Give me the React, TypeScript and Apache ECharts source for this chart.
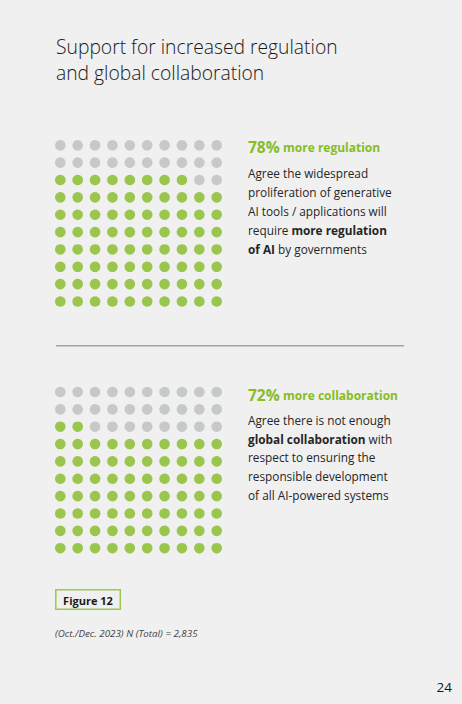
import React, { useEffect, useRef } from "react";
import * as echarts from "echarts";

const titleLines = ["Support for increased regulation", "and global collaboration"];
const percentages = [78, 72];
const headlines = ["more regulation", "more collaboration"];
const bodyLines1 = [
  "Agree the widespread",
  "proliferation of generative",
  "AI tools / applications will",
  "require {b|more regulation}",
  "{b|of AI} by governments",
];
const bodyLines2 = [
  "Agree there is not enough",
  "{b|global collaboration} with",
  "respect to ensuring the",
  "responsible development",
  "of all AI-powered systems",
];
const figureLabel = "Figure 12";
const footnote = "(Oct./Dec. 2023) N (Total) = 2,835";
const pageNumber = "24";

const GRID_COLS = 10;
const GRID_ROWS = 10;
const GREEN = "#86bc25";
const GRAY = "#bcbfc0";
const FONT = "'Open Sans', 'Noto Sans', sans-serif";

function waffle(pct: number) {
  const pts: any[] = [];
  const grayCount = GRID_COLS * GRID_ROWS - pct;
  const fullGrayRows = Math.floor(grayCount / GRID_COLS);
  const rem = grayCount % GRID_COLS;
  for (let r = 0; r < GRID_ROWS; r++) {
    for (let c = 0; c < GRID_COLS; c++) {
      // gray cells fill from the top rows; in the partial row they sit on the right
      let isGray = false;
      if (r < fullGrayRows) isGray = true;
      else if (r === fullGrayRows && c >= GRID_COLS - rem) isGray = true;
      pts.push({ value: [c, r], itemStyle: { color: isGray ? GRAY : GREEN } });
    }
  }
  return pts;
}

export default function App() {
  const ref = useRef<HTMLDivElement>(null);
  useEffect(() => {
    document.body.style.margin = "0";
    document.body.style.background = "#f0f0f0";
    const chart = echarts.init(ref.current!, null, { renderer: "svg" });
    const gridTops = [145.3, 392];
    const grids = gridTops.map((t) => ({ left: 60.3, top: t, width: 156.4, height: 156.2 }));
    const xAxes = grids.map((_, i) => ({
      type: "value", gridIndex: i, min: 0, max: 9, show: false,
    }));
    const yAxes = grids.map((_, i) => ({
      type: "value", gridIndex: i, min: 0, max: 9, inverse: true, show: false,
    }));
    const series = percentages.map((p, i) => ({
      type: "scatter", xAxisIndex: i, yAxisIndex: i, symbolSize: 10.6,
      data: waffle(p), silent: true,
    }));

    const bodyColor = "#262626";
    const BODY = 11.8;
    const rich = { b: { fontWeight: "bold", fontSize: BODY, fontFamily: FONT, fill: bodyColor, color: bodyColor } };
    const textEl = (x: number, y: number, text: string, extra: any = {}) => ({
      type: "text", x, y,
      style: {
        text, fill: bodyColor, fontSize: BODY, fontFamily: FONT,
        verticalAlign: "middle", align: "left", rich, ...extra,
      },
    });

    const graphic: any[] = [];
    graphic.push(textEl(56, 46, titleLines[0], { fontSize: 19.3, fontWeight: 300, fill: "#1a1a1a", rich: undefined }));
    graphic.push(textEl(56, 72, titleLines[1], { fontSize: 19.3, fontWeight: 300, fill: "#1a1a1a", rich: undefined }));

    const blocks = [
      { y: 147, lines: bodyLines1, lineY: [173, 192, 211, 230, 248.7] },
      { y: 395, lines: bodyLines2, lineY: [420, 438.7, 457.3, 476, 494.7] },
    ];
    blocks.forEach((b, i) => {
      graphic.push({
        type: "text", x: 248, y: b.y,
        style: {
          text: `{p|${percentages[i]}%} {h|${headlines[i]}}`,
          verticalAlign: "middle", align: "left",
          rich: {
            p: { fontSize: 15.5, fontWeight: "bold", fontFamily: FONT, fill: GREEN, color: GREEN },
            h: { fontSize: 12, fontWeight: "bold", fontFamily: FONT, fill: GREEN, color: GREEN },
          },
        },
      });
      b.lines.forEach((ln, j) => graphic.push(textEl(248, b.lineY[j], ln)));
    });

    graphic.push({
      type: "line", shape: { x1: 56, y1: 345.7, x2: 404, y2: 345.7 },
      style: { stroke: "#a3a3a3", lineWidth: 1.5 },
    });
    graphic.push({
      type: "rect", shape: { x: 55.8, y: 589.8, width: 64.5, height: 19.5 },
      style: { fill: "none", stroke: "#9cc94a", lineWidth: 1.5 },
    });
    graphic.push({
      type: "text", x: 88, y: 600,
      style: { text: figureLabel, fontSize: 11, fontWeight: "bold", fontFamily: FONT, fill: "#1a1a1a", align: "center", verticalAlign: "middle" },
    });
    graphic.push({
      type: "text", x: 55, y: 633.5,
      style: { text: footnote, fontSize: 9.8, fontStyle: "italic", fontFamily: FONT, fill: "#444444", align: "left", verticalAlign: "middle" },
    });
    graphic.push({
      type: "text", x: 452, y: 687,
      style: { text: pageNumber, fontSize: 13.5, fontFamily: FONT, fill: "#1a1a1a", align: "right", verticalAlign: "middle" },
    });

    chart.setOption({
      animation: false,
      backgroundColor: "#f0f0f0",
      grid: grids,
      xAxis: xAxes,
      yAxis: yAxes,
      series,
      graphic,
    } as any);
    return () => chart.dispose();
  }, []);
  return <div ref={ref} style={{ width: 462, height: 704 }} />;
}
